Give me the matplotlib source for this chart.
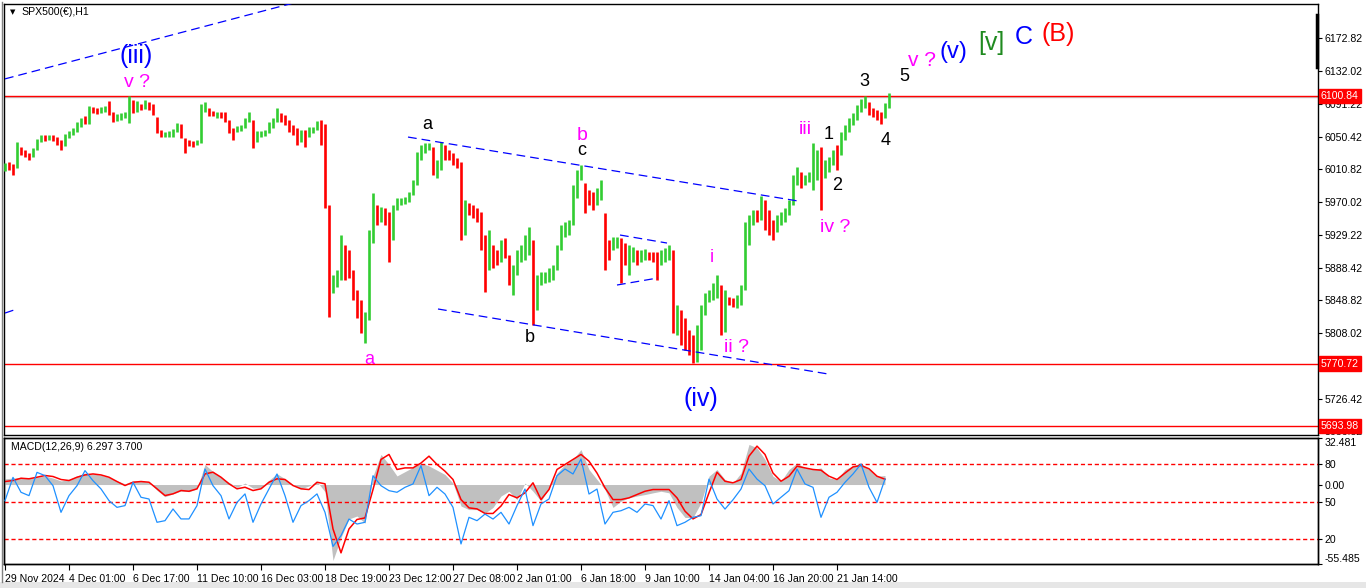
import numpy as np
import matplotlib
matplotlib.use("Agg")
import matplotlib.pyplot as plt
from matplotlib.lines import Line2D
from matplotlib.patches import Rectangle

# ---------------- price data (coarse 4-hour style sampling of H1 chart) ----------------
high = [6018,6019,6017,6044,6038,6034,6031,6037,6048,6053,
        6053,6053,6053,6050,6047,6054,6058,6061,6069,6074,
        6076,6088,6087,6086,6087,6088,6095,6081,6079,6080,
        6081,6101,6096,6095,6091,6096,6093,6091,6075,6059,
        6056,6058,6060,6068,6066,6049,6047,6045,6047,6091,
        6093,6086,6082,6081,6081,6081,6071,6061,6064,6065,
        6074,6081,6071,6058,6058,6059,6069,6074,6086,6080,
        6077,6071,6065,6061,6059,6059,6063,6063,6070,6071,
        6066,5966,5880,5886,5929,5917,5911,5886,5861,5849,
        5834,5935,5981,5966,5964,5963,5958,5966,5975,5975,
        5976,5982,5997,6032,6040,6043,6043,6038,6022,6044,
        6040,6034,6031,6024,6019,5973,5969,5966,5963,5958,
        5929,5935,5917,5911,5923,5926,5905,5892,5911,5917,
        5929,5939,5923,5880,5884,5884,5889,5892,5917,5942,
        5945,5948,5991,6010,6016,5994,5985,5982,5987,5997,
        5956,5923,5927,5927,5926,5919,5917,5915,5911,5911,
        5912,5908,5908,5908,5911,5913,5917,5911,5843,5837,
        5827,5812,5806,5818,5843,5858,5861,5870,5880,5868,
        5861,5853,5852,5855,5868,5945,5954,5960,5960,5977,
        5973,5960,5948,5954,5958,5963,5973,6003,6013,6007,
        6003,6007,6043,6034,6038,6022,6026,6034,6040,6056,
        6065,6074,6080,6090,6097,6101,6093,6086,6084,6081,
        6092,6104]
low = [6008,6010,6003,6012,6028,6026,6022,6026,6034,6044,
       6045,6047,6045,6040,6034,6039,6049,6053,6056,6063,
       6066,6066,6080,6079,6080,6081,6077,6069,6070,6071,
       6074,6068,6080,6081,6084,6085,6084,6077,6055,6050,
       6050,6050,6050,6056,6049,6031,6039,6038,6040,6043,
       6081,6076,6076,6074,6074,6069,6055,6047,6056,6058,
       6061,6069,6037,6044,6050,6051,6055,6061,6069,6069,
       6065,6056,6053,6040,6044,6038,6050,6055,6059,6040,
       5963,5828,5858,5865,5874,5874,5876,5849,5827,5808,
       5796,5824,5919,5942,5945,5942,5896,5923,5960,5966,
       5968,5970,5979,5991,6022,6031,6034,6003,6000,6010,
       6022,6022,6016,6012,5923,5929,5954,5950,5945,5911,
       5859,5886,5889,5892,5896,5901,5868,5855,5880,5896,
       5898,5905,5818,5837,5868,5870,5871,5874,5886,5911,
       5927,5929,5942,5975,5997,5956,5966,5960,5966,5973,
       5886,5898,5911,5913,5870,5892,5880,5896,5892,5896,
       5898,5898,5896,5874,5892,5896,5898,5808,5806,5794,
       5787,5781,5771,5773,5787,5831,5847,5849,5852,5806,
       5810,5843,5840,5839,5843,5861,5917,5942,5945,5948,
       5935,5929,5923,5933,5942,5945,5954,5966,5991,5987,
       5991,5995,5985,5997,5960,6000,6007,6016,6010,6028,
       6047,6056,6065,6071,6081,6086,6077,6075,6071,6066,
       6074,6086]
close = [6016,6013,6010,6037,6032,6028,6026,6034,6045,6049,
         6048,6050,6048,6045,6039,6051,6055,6059,6065,6071,
         6070,6085,6084,6082,6084,6085,6081,6072,6075,6076,
         6079,6096,6086,6088,6087,6092,6088,6081,6059,6053,
         6053,6054,6055,6064,6051,6044,6043,6042,6044,6084,
         6086,6080,6079,6079,6076,6074,6059,6058,6061,6063,
         6071,6077,6049,6053,6054,6056,6065,6070,6081,6074,
         6071,6061,6055,6049,6053,6047,6059,6060,6066,6061,
         5966,5859,5874,5880,5917,5896,5886,5855,5837,5818,
         5827,5923,5960,5954,5958,5950,5923,5960,5969,5971,
         5973,5979,5991,6022,6034,6039,6039,6010,6016,6034,
         6032,6028,6022,6018,5942,5966,5963,5958,5954,5917,
         5892,5923,5905,5901,5917,5908,5880,5886,5898,5911,
         5921,5923,5837,5871,5877,5880,5884,5889,5911,5935,
         5938,5942,5979,6003,6003,5979,5976,5969,5979,5987,
         5923,5913,5921,5923,5911,5905,5905,5905,5901,5905,
         5906,5903,5902,5892,5905,5908,5911,5824,5831,5806,
         5800,5794,5781,5800,5837,5849,5853,5861,5868,5831,
         5852,5849,5847,5849,5861,5935,5942,5954,5952,5966,
         5950,5942,5935,5948,5954,5958,5966,5997,6003,5995,
         5997,6001,6022,6024,6010,6012,6019,6028,6022,6049,
         6061,6071,6075,6086,6092,6092,6084,6080,6076,6075,
         6088,6100.84]
first_open = 6012

price_ticks = [6172.82, 6132.02, 6091.22, 6050.42, 6010.82, 5970.02, 5929.22,
               5888.42, 5848.82, 5808.02, 5767.22, 5726.42, 5686.82]
price_marks = [6100.84, 5770.72, 5693.98]

time_labels = ["29 Nov 2024", "4 Dec 01:00", "6 Dec 17:00", "11 Dec 10:00", "16 Dec 03:00",
               "18 Dec 19:00", "23 Dec 12:00", "27 Dec 08:00", "2 Jan 01:00", "6 Jan 18:00",
               "9 Jan 10:00", "14 Jan 04:00", "16 Jan 20:00", "21 Jan 14:00"]

# ---------------- MACD panel data (sampled every 2 coarse bars) ----------------
macd_main = [4,4.5,5,4.5,5,6,4.5,2.5,3.5,6,
             8,7.5,6.5,5,2.5,0.5,2.5,2.5,1.5,-4,
             -8.5,-6.5,-4.5,-5,-3,14,9,5,1.5,-2,
             1,-2.5,-2.5,3,7.5,4,0,-3,-1,2,
             -5,-53,-37,-24,-22,-27,6,21,14,6,
             9,12,15,13,10,7,1,-15,-17.5,-17.5,
             -20,-16,-8,-4.7,-10.5,1,-4.7,-11.6,-2.3,8,
             14,17.5,24.4,10.5,3.5,-3.5,-16,-11.6,-9.3,-8,
             -7,-5.8,-4.7,-5.8,-16,-23,-23,-12.8,5.8,10.5,
             3.5,1,8,28,25.6,17.5,5.8,2.3,10.5,15,
             11.6,10.5,11.6,4.7,3.5,10.5,13,15,10.5,5.8,
             6.297]
macd_signal = [2.1,2.8,4.4,4,5.1,6.3,5.6,3.5,2.8,5.1,
               6.7,7.4,6.7,5.1,2.1,-0.7,1.6,2.1,1.6,-3,
               -7.7,-6.5,-4.2,-4.7,-3,7.4,8.6,5.1,0.5,-3,
               -1.9,-4.2,-3,1.6,4,3.5,-0.7,-3,-3.5,1.6,
               0.5,-31,-47.7,-31,-24.4,-23.3,-3.5,17.5,21,10.5,
               11.6,11.6,15,19.8,14,9.3,3.5,-10.5,-16.3,-17,
               -20.2,-20.2,-15,-7,-9.3,-5.8,1.2,-10.5,-3.5,10.5,
               14,17.5,21,16.3,8,-2.3,-10.5,-10.5,-9.3,-7,
               -4.7,-3.5,-3.5,-3.5,-9.3,-18.6,-24,-21,-5.8,8.6,
               2.3,1.2,3.5,19.8,26.8,21,8,2.3,5.8,12.8,
               11.6,10.5,10,5.8,3.5,8,12.3,13.3,11,5.8,
               3.7]
oscillator = [50.8,69.5,57.5,54.8,73.5,70.9,62.8,41.4,54.8,62.8,
              74.9,66.8,60.2,50.8,45.4,46.8,65.5,53.5,52.1,33.4,
              34.7,44.1,36.1,36.1,46.8,76.2,62.8,54.8,36.1,49.4,
              56.2,33.4,48.1,60.2,72.2,54.8,33.4,46.8,50.8,56.2,
              41.4,14,22.7,36,32,33.4,70.8,62.8,58.8,57.5,
              61.5,64.2,78.9,54.8,61.5,56.1,45.4,16,37.4,34.7,
              40,36,41.4,32,46.8,60.1,30.7,48.1,52.1,70.8,
              76.2,72.2,84.2,56.1,60.1,32,41.4,42.7,45.4,41.4,
              48.1,46.8,36,50.8,30.7,33.4,37.4,38.7,68.1,52.1,
              44,51.5,60.1,76.2,68.1,62.8,48.1,53.5,58.8,76.2,
              64.2,61.5,37.4,53.5,57.5,65.5,72.2,80.2,61.5,49.4,
              68.1]
osc_levels = [80, 50, 20]
macd_ticks = [32.481, 0.0, -55.485]

# ---------------- drawing objects (bar index, price) ----------------
trendlines = [
    ([0, 75.5], [6122, 6220]),
    ([0, 3], [5833, 5838]),
    ([100.75, 198.25], [6050.2, 5971.3]),
    ([108.25, 205.75], [5838.0, 5757.8]),
    ([153.75, 165.5], [5929.3, 5919.4]),
    ([153, 163.25], [5867.6, 5876.3]),
]
MAG = '#ff00ff'
BLU = '#0000ff'
labels = [
    ("(iii)", 32.75, 6150, BLU, 18),
    ("v ?", 33, 6117, MAG, 14),
    ("a", 91, 5776, MAG, 13),
    ("a", 105.5, 6066, 'black', 13),
    ("b", 144.25, 6052, MAG, 14),
    ("c", 144.25, 6033, 'black', 13),
    ("b", 131.25, 5803, 'black', 13),
    ("(iv)", 174, 5727, BLU, 18),
    ("i", 176.75, 5902, MAG, 13),
    ("ii ?", 182.75, 5790, MAG, 14),
    ("iii", 200, 6059, MAG, 14),
    ("1", 206, 6053, 'black', 13),
    ("2", 208, 5991, 'black', 13),
    ("iv ?", 207.5, 5939, MAG, 14),
    ("3", 214.75, 6119, 'black', 13),
    ("4", 220.25, 6046, 'black', 13),
    ("5", 224.75, 6125, 'black', 13),
    ("v ?", 229.25, 6145, MAG, 15),
    ("(v)", 237, 6155, BLU, 17),
    ("[v]", 246.5, 6166, '#1f8a1f', 18),
    ("C", 254.75, 6174, BLU, 18),
    ("(B)", 263.25, 6177, '#ff0000', 18),
]

AXFONT = ['Liberation Sans', 'DejaVu Sans']
AXSIZE = 7.6

# ---------------- figure ----------------
W, H = 1366, 588
fig = plt.figure(figsize=(W / 100, H / 100), dpi=100)
fig.patch.set_facecolor('white')

def fx(px):
    return px / W

def fy(py):
    return 1 - py / H

ax = fig.add_axes([fx(4), fy(435), fx(1318) - fx(4), fy(4) - fy(435)])
axm = fig.add_axes([fx(4), fy(564), fx(1318) - fx(4), fy(438) - fy(564)])

n = len(close)
idx = np.arange(n)
c = np.array(close, dtype=float)
o = np.r_[first_open, c[:-1]]
hi = np.array(high, dtype=float)
lo = np.array(low, dtype=float)
up = c >= o
ax.vlines(idx[up], lo[up], hi[up], color='#32cd32', lw=1.9, zorder=3)
ax.vlines(idx[~up], lo[~up], hi[~up], color='#ff0000', lw=1.9, zorder=3)

xmin, xmax = -0.25, 328.25
ax.set_xlim(xmin, xmax)
ax.set_ylim(5682.5, 6214.4)

ax.axhline(price_marks[0] - 1.8, color='#c8c8c8', lw=1.0, zorder=2)
for pm in price_marks:
    ax.axhline(pm, color='#ff0000', lw=1.0, zorder=2)

for xs, ys in trendlines:
    ax.plot(xs, ys, color=BLU, lw=0.9, dashes=(7, 4), zorder=4)

for s, x, y, col, fs in labels:
    ax.text(x, y, s, color=col, fontsize=fs, ha='center', va='center',
            family=['Liberation Sans', 'DejaVu Sans'], zorder=6)

ax.set_xticks([])
ax.yaxis.tick_right()
ax.set_yticks(price_ticks)
ax.set_yticklabels([f"{t:.2f}" for t in price_ticks], family=AXFONT)
ax.tick_params(axis='y', length=3, width=0.8, pad=2, labelsize=AXSIZE, colors='black')
for sp in ax.spines.values():
    sp.set_linewidth(1.0)
    sp.set_color('black')

for pm in price_marks:
    ax.annotate(f"{pm:.2f}", xy=(1, pm), xycoords=ax.get_yaxis_transform(),
                xytext=(2, 0), textcoords='offset points', ha='left', va='center',
                fontsize=AXSIZE, family=AXFONT, color='white', annotation_clip=False,
                zorder=10,
                bbox=dict(boxstyle='square,pad=0.2', fc='#ff0000', ec='#ff0000'))

ax.text(0.013, 0.981, "SPX500(€),H1", transform=ax.transAxes, fontsize=AXSIZE,
        family=AXFONT, ha='left', va='center', color='black')
ax.text(0.0045, 0.981, "▼", transform=ax.transAxes, fontsize=5,
        ha='left', va='center', color='black')

# ---------------- MACD panel ----------------
m = np.array(macd_main, dtype=float)
mx = np.arange(len(m)) * 2
axm.fill_between(mx, 0, m, color='#c0c0c0', linewidth=0, zorder=2)
axm.plot(mx, macd_signal, color='#ff0000', lw=1.1, zorder=4)
axm.set_xlim(xmin, xmax)
axm.set_ylim(-55.485, 32.481)

axo = axm.twinx()
axo.set_ylim(-0.1, 101.1)
axo.plot(mx, oscillator, color='#1e90ff', lw=0.9, zorder=3)
for lv in osc_levels:
    axo.axhline(lv, color='#ff0000', lw=1.0, dashes=(3, 2))
axo.set_yticks(osc_levels)
axo.set_yticklabels([str(v) for v in osc_levels], family=AXFONT)
axo.tick_params(axis='y', length=3, width=0.8, pad=2, labelsize=AXSIZE)

axm.yaxis.tick_right()
axm.set_yticks(macd_ticks)
tl = axm.set_yticklabels(["32.481", "0.00", "-55.485"], family=AXFONT)
tl[0].set_va('top')
tl[2].set_va('bottom')
axm.tick_params(axis='y', length=3, width=0.8, pad=2, labelsize=AXSIZE)

axm.set_xticks(np.arange(len(time_labels)) * 16)
xl = axm.set_xticklabels(time_labels, family=AXFONT)
for t in xl:
    t.set_ha('left')
axm.tick_params(axis='x', length=4, width=0.8, pad=3, labelsize=AXSIZE)
for a in (axm, axo):
    for sp in a.spines.values():
        sp.set_linewidth(1.0)
        sp.set_color('black')

axm.text(0.005, 0.93, "MACD(12,26,9) 6.297 3.700", transform=axm.transAxes,
         fontsize=AXSIZE, family=AXFONT, ha='left', va='center', color='black', zorder=10)

# decorations outside axes
fig.add_artist(Line2D([fx(1317), fx(1317)], [fy(15), fy(67)], color='black', lw=2.5))
fig.add_artist(Rectangle((0, 0), 1, fy(582), transform=fig.transFigure,
                         facecolor='#e6e6e6', edgecolor='none'))
fig.add_artist(Line2D([fx(2), fx(2)], [fy(582), fy(2)], color='#808080', lw=1))

fig.savefig("out.png", dpi=100, facecolor='white')
